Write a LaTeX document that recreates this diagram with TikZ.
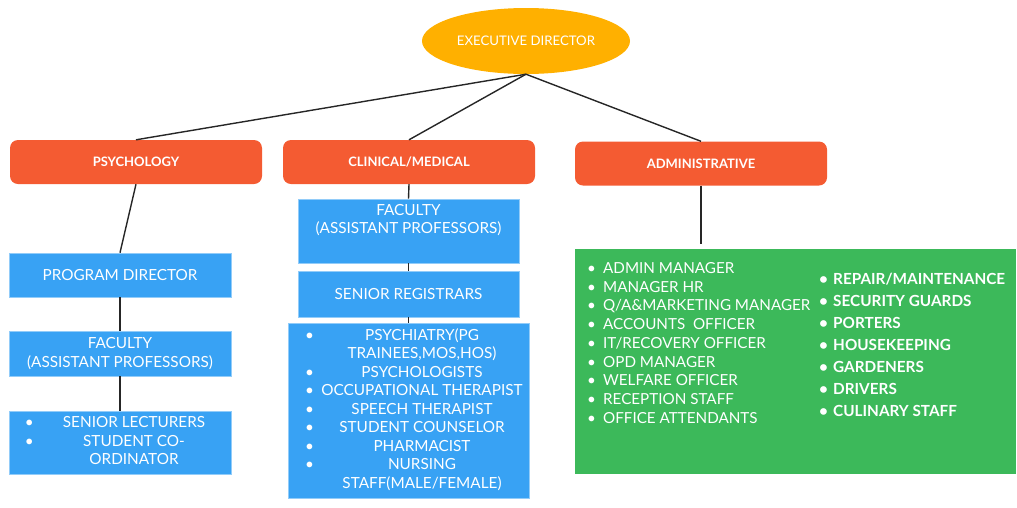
\documentclass[tikz,border=0pt]{standalone}
\usepackage{fontspec}
\usepackage{array}
\setmainfont{Lato}
\usetikzlibrary{shapes.geometric}
\definecolor{edorange}{HTML}{FFB000}
\definecolor{deptred}{HTML}{F45B32}
\definecolor{staffblue}{HTML}{38A2F4}
\definecolor{admingreen}{HTML}{3CB95A}

\begin{document}
\begin{tikzpicture}[x=1pt,y=-1pt]
			\tikzset{head/.style={shape = ellipse, fill = edorange, minimum width = 208pt, minimum height = 66pt, inner sep = 0pt, text = white, font = \fontsize{13.2}{15}\selectfont}}
			\tikzset{dept/.style={rounded corners = 8pt, fill = deptred, minimum width = 252pt, minimum height = 44pt, inner sep = 0pt, text = white, font = \bfseries\fontsize{13}{15}\selectfont}}
			\tikzset{staff/.style={fill = staffblue, draw = staffblue!55!white, line width = 0.6pt, minimum width = 222pt, inner sep = 0pt, text = white, align = center, font = \fontsize{15.3}{18.5}\selectfont}}
			\tikzset{link/.style={draw = black!85, line width = 1.4pt}}
			\useasboundingbox (0,0) rectangle (1017,507);
			%director
			\node[head] (ed) at (526, 41) {EXECUTIVE DIRECTOR};
			%departments
			\node[dept] (psy) at (136, 162) {PSYCHOLOGY};
			\node[dept] (clin) at (409, 162) {CLINICAL/MEDICAL};
			\node[dept] (adm) at (701, 163.5) {ADMINISTRATIVE};
			%psychology
			\node[staff, minimum height = 44pt] (prog) at (120, 275) {PROGRAM DIRECTOR};
			\node[staff, minimum height = 45pt] (psyfac) at (120, 353.5) {FACULTY\\(ASSISTANT PROFESSORS)};
			\node[staff, minimum height = 63pt] (psylist) at (120, 442.5) {%
				\begin{tabular}{@{\hspace{16pt}}p{14pt}@{}>{\centering\arraybackslash}p{190pt}@{\hspace{2pt}}}
					\textbullet & SENIOR LECTURERS\\
					\textbullet & STUDENT CO-\\
					& ORDINATOR
				\end{tabular}};
			%clinical
			\node[staff, minimum width = 221pt, minimum height = 64pt] (clinfac) at (408.5, 231) {FACULTY\\(ASSISTANT PROFESSORS)\\\strut};
			\node[staff, minimum width = 221pt, minimum height = 46pt] (reg) at (408.5, 294) {SENIOR REGISTRARS};
			\node[staff, minimum width = 241pt, minimum height = 175pt] (clinlist) at (408.5, 410.5) {%
				\begin{tabular}{@{\hspace{17pt}}p{14pt}@{}>{\centering\arraybackslash}p{206pt}@{\hspace{4pt}}}
					\textbullet & PSYCHIATRY(PG\\
					& TRAINEES,MOS,HOS)\\
					\textbullet & PSYCHOLOGISTS\\
					\textbullet & OCCUPATIONAL THERAPIST\\
					\textbullet & SPEECH THERAPIST\\
					\textbullet & STUDENT COUNSELOR\\
					\textbullet & PHARMACIST\\
					\textbullet & NURSING\\
					& STAFF(MALE/FEMALE)
				\end{tabular}};
			%administrative
			\node[fill = admingreen, minimum width = 441pt, minimum height = 225pt, inner sep = 0pt] (admbox) at (795.5, 361.5) {};
			\node[anchor = west, align = left, text = white, inner sep = 0pt, font = \fontsize{15.2}{18.75}\selectfont] (officelist) at (587, 343) {%
				\makebox[16pt][l]{\textbullet}ADMIN MANAGER\\
				\makebox[16pt][l]{\textbullet}MANAGER HR\\
				\makebox[16pt][l]{\textbullet}Q/A\&MARKETING MANAGER\\
				\makebox[16pt][l]{\textbullet}ACCOUNTS\ \ OFFICER\\
				\makebox[16pt][l]{\textbullet}IT/RECOVERY OFFICER\\
				\makebox[16pt][l]{\textbullet}OPD MANAGER\\
				\makebox[16pt][l]{\textbullet}WELFARE OFFICER\\
				\makebox[16pt][l]{\textbullet}RECEPTION STAFF\\
				\makebox[16pt][l]{\textbullet}OFFICE ATTENDANTS};
			\node[anchor = west, align = left, text = white, inner sep = 0pt, font = \bfseries\fontsize{15.3}{21.9}\selectfont] (servicelist) at (819, 345) {%
				\makebox[14pt][l]{\textbullet}REPAIR/MAINTENANCE\\
				\makebox[14pt][l]{\textbullet}SECURITY GUARDS\\
				\makebox[14pt][l]{\textbullet}PORTERS\\
				\makebox[14pt][l]{\textbullet}HOUSEKEEPING\\
				\makebox[14pt][l]{\textbullet}GARDENERS\\
				\makebox[14pt][l]{\textbullet}DRIVERS\\
				\makebox[14pt][l]{\textbullet}CULINARY STAFF};
			\coordinate (admtip) at (701, 244);
			%edges
			\path (ed.south) edge[link] (psy.north);
			\path (ed.south) edge[link] (clin.north);
			\path (ed.south) edge[link] (adm.north);
			\path (psy.south) edge[link] (prog.north);
			\path (prog.south) edge[link] (psyfac.north);
			\path (psyfac.south) edge[link] (psylist.north);
			\path (clin.south) edge[link] (clinfac.north);
			\path (clinfac.south) edge[link] (reg.north);
			\path (reg.south) edge[link] (clinlist.north);
			\path (adm.south) edge[link] (admtip);
\end{tikzpicture}
\end{document}
